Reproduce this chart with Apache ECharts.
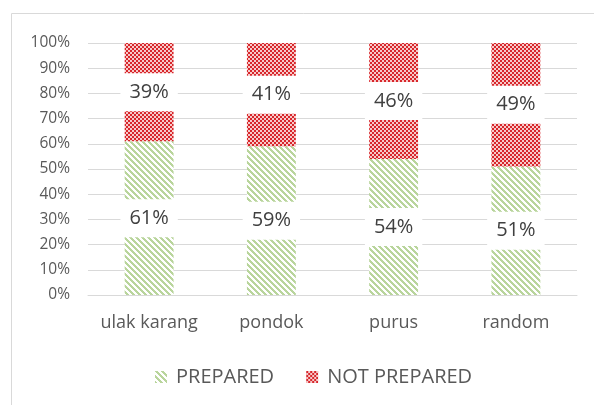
<!DOCTYPE html>
<html>
<head>
<meta charset="utf-8">
<script src="https://cdn.jsdelivr.net/npm/echarts@6/dist/echarts.min.js"></script>
<style>
html,body{margin:0;padding:0;background:#fff;}
#c{width:594px;height:405px;}
</style>
</head>
<body>
<div id="c"></div>
<script>
var categories = ['ulak karang', 'pondok', 'purus', 'random'];
var prepared = [61, 59, 54, 51];
var notPrepared = [39, 41, 46, 49];
var yTicks = [0, 10, 20, 30, 40, 50, 60, 70, 80, 90, 100];

function stripePattern() {
  var s = 6, cv = document.createElement('canvas');
  cv.width = s; cv.height = s;
  var ctx = cv.getContext('2d');
  ctx.fillStyle = '#ffffff'; ctx.fillRect(0, 0, s, s);
  ctx.fillStyle = '#b9d59c';
  for (var y = 0; y < s; y++) for (var x = 0; x < s; x++) {
    if ((((x - y) % s) + s) % s < 3) ctx.fillRect(x, y, 1, 1);
  }
  return cv;
}
function checkerPattern() {
  var c = 2, cv = document.createElement('canvas');
  cv.width = c * 2; cv.height = c * 2;
  var ctx = cv.getContext('2d');
  ctx.fillStyle = '#f6caca'; ctx.fillRect(0, 0, c * 2, c * 2);
  ctx.fillStyle = '#d8262b';
  ctx.fillRect(0, 0, c, c); ctx.fillRect(c, c, c, c);
  return cv;
}

var chart = echarts.init(document.getElementById('c'), null, {renderer: 'canvas'});
var font = '"Open Sans", "Noto Sans", sans-serif';
var labelStyle = {
  show: true, position: 'inside', formatter: '{c}%',
  fontFamily: font, fontSize: 20, color: '#404040',
  backgroundColor: '#ffffff', padding: [9, 9]
};
chart.setOption({
  animation: false,
  textStyle: {fontFamily: font},
  graphic: [{
    type: 'rect', shape: {x: 11.5, y: 13.5, width: 700, height: 500},
    style: {fill: 'none', stroke: '#d9d9d9', lineWidth: 1}, silent: true
  }],
  grid: {left: 88, right: 17, top: 43, bottom: 110, containLabel: false},
  legend: {
    bottom: 13, left: 150, itemWidth: 12, itemHeight: 12, itemGap: 32,
    icon: 'rect',
    textStyle: {fontFamily: font, fontSize: 20, color: '#595959', padding: [0, 0, 0, 4]},
    data: ['PREPARED', 'NOT PREPARED']
  },
  xAxis: {
    type: 'category', data: categories,
    axisLine: {lineStyle: {color: '#d9d9d9'}},
    axisTick: {show: false},
    axisLabel: {fontFamily: font, fontSize: 18, color: '#595959', margin: 19,
      interval: 0, hideOverlap: false}
  },
  yAxis: {
    type: 'value', min: yTicks[0], max: yTicks[yTicks.length - 1], interval: 10,
    axisLine: {show: false}, axisTick: {show: false},
    splitLine: {lineStyle: {color: '#d9d9d9'}},
    axisLabel: {fontFamily: font, fontSize: 15.5, color: '#595959', margin: 18,
      formatter: function (v) { return v + '%'; }}
  },
  series: [{
    name: 'PREPARED', type: 'bar', stack: 'total', data: prepared, barWidth: '40%',
    itemStyle: {color: {image: stripePattern(), repeat: 'repeat'}},
    label: labelStyle
  }, {
    name: 'NOT PREPARED', type: 'bar', stack: 'total', data: notPrepared, barWidth: '40%',
    itemStyle: {color: {image: checkerPattern(), repeat: 'repeat'}},
    label: labelStyle
  }]
});
</script>
</body>
</html>
